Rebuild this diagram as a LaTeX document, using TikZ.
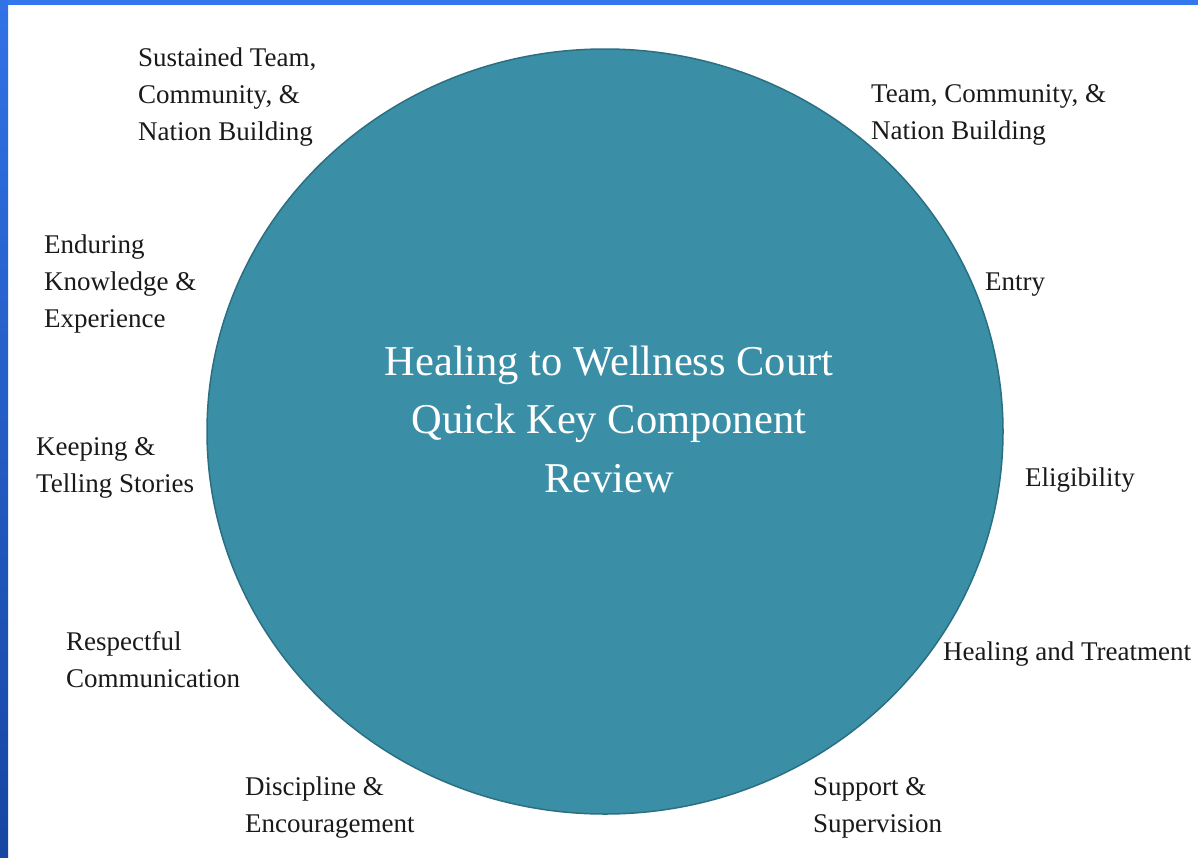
\documentclass[tikz,border=0pt]{standalone}
\usepackage{fontspec}
\setmainfont{Liberation Serif}
\usetikzlibrary{shapes.geometric}
\definecolor{circfill}{HTML}{3A8FA6}
\definecolor{circedge}{HTML}{2B6F82}
\definecolor{frametop}{HTML}{3377EE}
\definecolor{frameleftA}{HTML}{3172E6}
\definecolor{frameleftB}{HTML}{1646A2}
\definecolor{labeltext}{HTML}{1A1A1A}
\begin{document}
\begin{tikzpicture}[x=1pt,y=-1pt,
  lbl/.style={anchor=base west,align=left,inner sep=0pt,text=labeltext,
    font=\fontsize{27}{37}\selectfont},
  ttl/.style={anchor=base,align=center,inner sep=0pt,text=white,
    font=\fontsize{42.5}{58.5}\selectfont}]
\useasboundingbox (0,0) rectangle (1198,857);
\fill[white] (0,0) rectangle (1198,857);
% frame
\fill[frametop] (0,0) rectangle (1198,5);
\shade[top color=frameleftA,bottom color=frameleftB] (0,0) rectangle (8,857);
% circle
\node[draw=circedge,line width=1.5pt,fill=circfill,ellipse,minimum width=796pt,minimum height=765pt,inner sep=0pt] (circ) at (605,431.5) {};
% (base anchor of a multi-line node = baseline of its last line)
\node[ttl] (title) at (609,492) {Healing to Wellness Court\\Quick Key Component\\Review};
% labels
\node[lbl] (sust) at (138,140) {Sustained Team,\\Community, \&\\Nation Building};
\node[lbl] (team) at (871,139) {Team, Community, \&\\Nation Building};
\node[lbl] (endu) at (44,327) {Enduring\\Knowledge \&\\Experience};
\node[lbl] (entry) at (985,290) {Entry};
\node[lbl] (keep) at (36,492) {Keeping \&\\Telling Stories};
\node[lbl] (elig) at (1025,486) {Eligibility};
\node[lbl] (resp) at (66,687) {Respectful\\Communication};
\node[lbl] (heal) at (943,660) {Healing and Treatment};
\node[lbl] (disc) at (245,832) {Discipline \&\\Encouragement};
\node[lbl] (supp) at (813,832) {Support \&\\Supervision};
\end{tikzpicture}
\end{document}
